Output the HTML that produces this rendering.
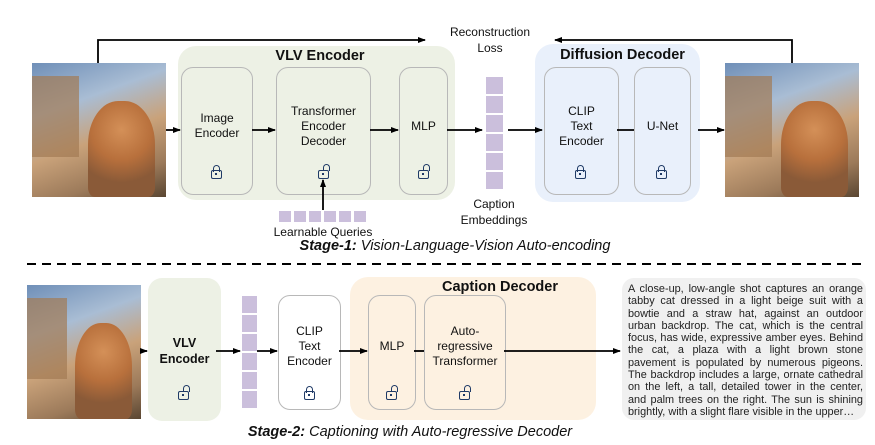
<!DOCTYPE html>
<html><head><style>
body{margin:0;width:875px;height:445px;background:#fff;font-family:"Liberation Sans",Arial,sans-serif;position:relative;overflow:hidden}
.a{position:absolute}
.panel{position:absolute;border-radius:18px}
.box{position:absolute;border:1px solid #b8b8b8;border-radius:12px;display:flex;align-items:center;justify-content:center;text-align:center;font-size:12px;line-height:15px;color:#111}
.t{position:absolute;font-size:12px;text-align:center;color:#111;line-height:16px}
.img{position:absolute;background:linear-gradient(160deg,#6f8fb8 0%,#a9bdd4 30%,#c9a27a 55%,#9c7a5a 80%,#5a4632 100%);overflow:hidden}
.img::after{content:"";position:absolute;left:42%;top:28%;width:50%;height:72%;border-radius:45% 45% 10% 10%;background:radial-gradient(circle at 50% 30%,#d49058 0,#b8703c 40%,#8a5a38 70%)}
.img::before{content:"";position:absolute;left:0;top:10%;width:35%;height:60%;background:#a27a54;opacity:.7}
.sq{position:absolute;background:#cbbfdc}
.lock{position:absolute;width:11px;height:9px;border:1.6px solid #1f3a66;border-radius:2px;box-sizing:border-box}
.lock::before{content:"";position:absolute;left:1px;top:-6px;width:5px;height:6px;border:1.6px solid #1f3a66;border-bottom:none;border-radius:4px 4px 0 0}
.lock.open::before{left:4px;top:-7px}
.lock::after{content:"";position:absolute;left:3px;top:2px;width:2px;height:2px;background:#1f3a66}
</style></head><body>
<div class="img" style="left:32px;top:63px;width:134px;height:134px"></div>
<div class="img" style="left:725px;top:63px;width:134px;height:134px"></div>
<div class="img" style="left:27px;top:285px;width:114px;height:134px"></div>

<div class="panel" style="left:178px;top:46px;width:277px;height:154px;background:#edf1e5"></div>
<div class="t" style="left:178px;top:48px;width:284px;font-weight:bold;font-size:14.5px">VLV Encoder</div>
<div class="box" style="left:181px;top:67px;width:70px;height:126px"><div style="margin-top:-10px">Image<br>Encoder</div></div>
<div class="box" style="left:276px;top:67px;width:93px;height:126px"><div style="margin-top:-10px">Transformer<br>Encoder<br>Decoder</div></div>
<div class="box" style="left:399px;top:67px;width:47px;height:126px"><div style="margin-top:-10px">MLP</div></div>
<div class="lock" style="left:211px;top:170px"></div>
<div class="lock open" style="left:318px;top:170px"></div>
<div class="lock open" style="left:418px;top:170px"></div>

<div class="t" style="left:430px;top:24px;width:120px">Reconstruction<br>Loss</div>
<div class="sq" style="left:486px;top:77px;width:17px;height:17px"></div>
<div class="sq" style="left:486px;top:96px;width:17px;height:17px"></div>
<div class="sq" style="left:486px;top:115px;width:17px;height:17px"></div>
<div class="sq" style="left:486px;top:134px;width:17px;height:17px"></div>
<div class="sq" style="left:486px;top:153px;width:17px;height:17px"></div>
<div class="sq" style="left:486px;top:172px;width:17px;height:17px"></div>
<div class="t" style="left:444px;top:196px;width:100px">Caption<br>Embeddings</div>

<div class="panel" style="left:535px;top:44px;width:165px;height:158px;background:#e9f0fb"></div>
<div class="t" style="left:535px;top:47px;width:175px;font-weight:bold;font-size:14.5px">Diffusion Decoder</div>
<div class="box" style="left:544px;top:67px;width:73px;height:126px"><div style="margin-top:-10px">CLIP<br>Text<br>Encoder</div></div>
<div class="box" style="left:634px;top:67px;width:55px;height:126px"><div style="margin-top:-10px">U-Net</div></div>
<div class="lock" style="left:575px;top:170px"></div>
<div class="lock" style="left:656px;top:170px"></div>

<div class="sq" style="left:279px;top:211px;width:12px;height:11px"></div>
<div class="sq" style="left:294px;top:211px;width:12px;height:11px"></div>
<div class="sq" style="left:309px;top:211px;width:12px;height:11px"></div>
<div class="sq" style="left:324px;top:211px;width:12px;height:11px"></div>
<div class="sq" style="left:339px;top:211px;width:12px;height:11px"></div>
<div class="sq" style="left:354px;top:211px;width:12px;height:11px"></div>
<div class="t" style="left:263px;top:224px;width:120px">Learnable Queries</div>
<div class="t" style="left:200px;top:238px;width:510px;font-style:italic;font-size:14.5px"><b>Stage-1:</b> Vision-Language-Vision Auto-encoding</div>

<div class="panel" style="left:148px;top:278px;width:73px;height:143px;background:#edf1e5;border-radius:14px"></div>
<div class="t" style="left:148px;top:335px;width:73px;font-weight:bold;font-size:12.5px">VLV<br>Encoder</div>
<div class="lock open" style="left:178px;top:391px"></div>
<div class="sq" style="left:242px;top:296px;width:15px;height:17px"></div>
<div class="sq" style="left:242px;top:315px;width:15px;height:17px"></div>
<div class="sq" style="left:242px;top:334px;width:15px;height:17px"></div>
<div class="sq" style="left:242px;top:353px;width:15px;height:17px"></div>
<div class="sq" style="left:242px;top:372px;width:15px;height:17px"></div>
<div class="sq" style="left:242px;top:391px;width:15px;height:17px"></div>
<div class="box" style="left:278px;top:295px;width:61px;height:113px;background:#fff"><div style="margin-top:-12px">CLIP<br>Text<br>Encoder</div></div>
<div class="lock" style="left:304px;top:391px"></div>
<div class="panel" style="left:350px;top:277px;width:246px;height:143px;background:#fdf1e1"></div>
<div class="t" style="left:400px;top:279px;width:200px;font-weight:bold;font-size:14.5px">Caption Decoder</div>
<div class="box" style="left:368px;top:295px;width:46px;height:113px"><div style="margin-top:-12px">MLP</div></div>
<div class="box" style="left:424px;top:295px;width:80px;height:113px"><div style="margin-top:-12px">Auto-<br>regressive<br>Transformer</div></div>
<div class="lock open" style="left:386px;top:391px"></div>
<div class="lock open" style="left:459px;top:391px"></div>
<div class="panel" style="left:622px;top:278px;width:244px;height:142px;background:#f0f0f0;border-radius:12px"></div>
<div class="a" style="left:628px;top:283px;width:235px;font-size:10.9px;line-height:12.3px;text-align:justify;color:#222">A close-up, low-angle shot captures an orange tabby cat dressed in a light beige suit with a bowtie and a straw hat, against an outdoor urban backdrop. The cat, which is the central focus, has wide, expressive amber eyes. Behind the cat, a plaza with a light brown stone pavement is populated by numerous pigeons. The backdrop includes a large, ornate cathedral on the left, a tall, detailed tower in the center, and palm trees on the right. The sun is shining brightly, with a slight flare visible in the upper…</div>
<div class="t" style="left:150px;top:424px;width:520px;font-style:italic;font-size:14.5px"><b>Stage-2:</b> Captioning with Auto-regressive Decoder</div>

<svg class="a" style="left:0;top:0;z-index:5" width="875" height="445">
<defs><marker id="ar" markerWidth="8" markerHeight="8" refX="7" refY="4" orient="auto" markerUnits="userSpaceOnUse"><path d="M0,1 L8,4 L0,7 z" fill="#000"/></marker></defs>
<g stroke="#000" stroke-width="1.8" fill="none">
<path d="M98,63 V40 H425" marker-end="url(#ar)"/>
<path d="M792,63 V40 H555" marker-end="url(#ar)"/>
<path d="M166,130 H180" marker-end="url(#ar)"/>
<path d="M252,130 H275" marker-end="url(#ar)"/>
<path d="M370,130 H398" marker-end="url(#ar)"/>
<path d="M447,130 H482" marker-end="url(#ar)"/>
<path d="M508,130 H542" marker-end="url(#ar)"/>
<path d="M617,130 H634"/>
<path d="M698,130 H724" marker-end="url(#ar)"/>
<path d="M323,210 V180" marker-end="url(#ar)"/>
<path d="M141,351 H147" marker-end="url(#ar)"/>
<path d="M216,351 H240" marker-end="url(#ar)"/>
<path d="M257,351 H277" marker-end="url(#ar)"/>
<path d="M339,351 H367" marker-end="url(#ar)"/>
<path d="M414,351 H424"/>
<path d="M504,351 H620" marker-end="url(#ar)"/>
</g>
<line x1="27" y1="264" x2="862" y2="264" stroke="#000" stroke-width="2" stroke-dasharray="9,6"/>
</svg>
</body></html>
